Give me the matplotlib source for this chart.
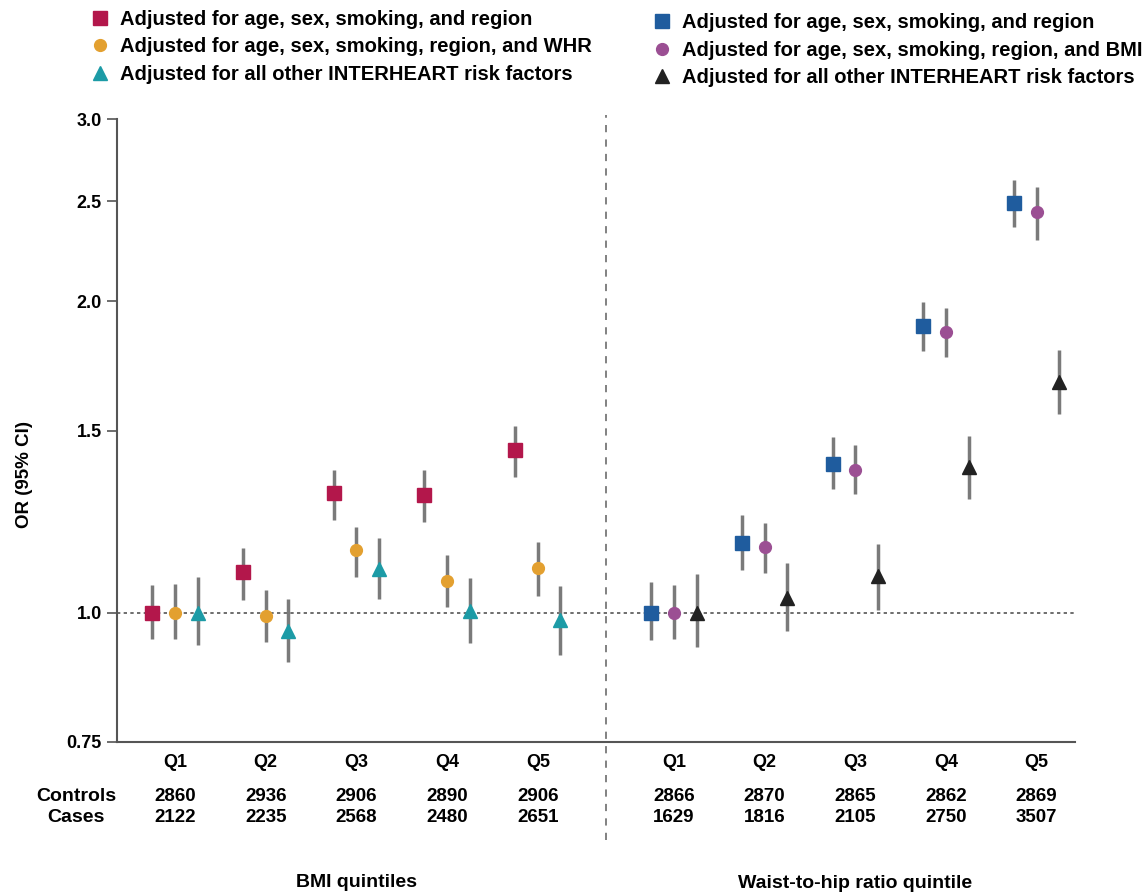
import matplotlib
matplotlib.use("Agg")
import matplotlib.pyplot as plt
import numpy as np

plt.rcParams["font.family"] = ["Liberation Sans", "DejaVu Sans"]
plt.rcParams["font.weight"] = "bold"

# data
quintiles = ["Q1", "Q2", "Q3", "Q4", "Q5"]

bmi_labels = ["Adjusted for age, sex, smoking, and region",
              "Adjusted for age, sex, smoking, region, and WHR",
              "Adjusted for all other INTERHEART risk factors"]
bmi_or = [[1.00, 1.095, 1.304, 1.299, 1.437],
          [1.00, 0.993, 1.149, 1.073, 1.105],
          [1.00, 0.961, 1.103, 1.004, 0.983]]
bmi_lo = [[0.944, 1.028, 1.230, 1.225, 1.353],
          [0.944, 0.937, 1.083, 1.012, 1.038],
          [0.930, 0.895, 1.032, 0.935, 0.910]]
bmi_hi = [[1.064, 1.155, 1.373, 1.373, 1.516],
          [1.066, 1.052, 1.211, 1.136, 1.170],
          [1.083, 1.032, 1.181, 1.080, 1.060]]

whr_labels = ["Adjusted for age, sex, smoking, and region",
              "Adjusted for age, sex, smoking, region, and BMI",
              "Adjusted for all other INTERHEART risk factors"]
whr_or = [[1.00, 1.168, 1.393, 1.895, 2.491],
          [1.00, 1.158, 1.375, 1.867, 2.440],
          [1.00, 1.034, 1.085, 1.383, 1.672]]
whr_lo = [[0.940, 1.099, 1.316, 1.790, 2.358],
          [0.944, 1.093, 1.302, 1.766, 2.293],
          [0.926, 0.959, 1.007, 1.289, 1.555]]
whr_hi = [[1.070, 1.243, 1.478, 1.997, 2.622],
          [1.063, 1.220, 1.454, 1.971, 2.580],
          [1.089, 1.116, 1.164, 1.483, 1.795]]

bmi_controls = [2860, 2936, 2906, 2890, 2906]
bmi_cases = [2122, 2235, 2568, 2480, 2651]
whr_controls = [2866, 2870, 2865, 2862, 2869]
whr_cases = [1629, 1816, 2105, 2750, 3507]

yticks = [0.75, 1.0, 1.5, 2.0, 2.5, 3.0]

bmi_colors = ["#B3174B", "#E3A030", "#1C9BA6"]
whr_colors = ["#1F5C9E", "#9B4F93", "#222222"]
markers = ["s", "o", "^"]
msizes = [9.5, 8.5, 9.5]

fig = plt.figure(figsize=(11.47, 8.96), dpi=100)
ax = fig.add_axes([0.102, 0.172, 0.835, 0.695])

bmi_x = np.arange(1, 6)
whr_x = np.arange(1, 6) + 5.5
offsets = [-0.25, 0, 0.25]

handles_l, handles_r = [], []
for i in range(3):
    for xs, ors, lo, hi, col, store, lab in [
            (bmi_x, bmi_or, bmi_lo, bmi_hi, bmi_colors, handles_l, bmi_labels),
            (whr_x, whr_or, whr_lo, whr_hi, whr_colors, handles_r, whr_labels)]:
        y = np.array(ors[i])
        err = [y - np.array(lo[i]), np.array(hi[i]) - y]
        ax.errorbar(xs + offsets[i], y, yerr=err, fmt="none", ecolor="#7a7a7a",
                    elinewidth=2.5, capsize=0, zorder=2)
        h, = ax.plot(xs + offsets[i], y, linestyle="none", marker=markers[i],
                     markersize=msizes[i], color=col[i], markeredgecolor=col[i],
                     zorder=3, label=lab[i])
        store.append(h)

ax.axhline(1.0, color="#555555", linestyle=(0, (2, 2)), linewidth=1.2, zorder=1)
ax.axvline(5.75, ymin=-0.157, ymax=1.006, color="#777777", linestyle=(0, (4, 4)),
           linewidth=1.3, clip_on=False)

ax.set_yscale("log")
ax.set_ylim(0.75, 3.0)
ax.set_xlim(0.36, 10.92)
ax.set_yticks(yticks)
ax.set_yticklabels(["0.75", "1.0", "1.5", "2.0", "2.5", "3.0"])
ax.yaxis.set_minor_locator(matplotlib.ticker.NullLocator())
ax.set_xticks(list(bmi_x) + list(whr_x))
ax.set_xticklabels(quintiles + quintiles)
ax.tick_params(axis="x", length=0, pad=9, labelsize=13)
ax.tick_params(axis="y", length=7, width=1.2, color="#555555", labelsize=13, pad=4)
for s in ["top", "right"]:
    ax.spines[s].set_visible(False)
for s in ["left", "bottom"]:
    ax.spines[s].set_color("#555555")
    ax.spines[s].set_linewidth(1.5)

tr = ax.get_xaxis_transform()
ax.text(-0.09, -0.087, "Controls", transform=tr, ha="center", va="center", fontsize=14)
ax.text(-0.09, -0.122, "Cases", transform=tr, ha="center", va="center", fontsize=14)
for xs, ctrl, cases in [(bmi_x, bmi_controls, bmi_cases), (whr_x, whr_controls, whr_cases)]:
    for x, c1, c2 in zip(xs, ctrl, cases):
        ax.text(x, -0.087, str(c1), transform=tr, ha="center", va="center", fontsize=13.5)
        ax.text(x, -0.122, str(c2), transform=tr, ha="center", va="center", fontsize=13.5)

ax.text(3.0, -0.225, "BMI quintiles", transform=tr, ha="center", va="center", fontsize=14)
ax.text(8.5, -0.228, "Waist-to-hip ratio quintile", transform=tr, ha="center", va="center", fontsize=14)

fig.text(0.021, 0.47, "OR (95% CI)", rotation=90, ha="center", va="center", fontsize=13.5)

fig.legend(handles=handles_l, loc="upper left", bbox_to_anchor=(0.080, 0.989),
           frameon=False, fontsize=14.5, handlelength=0.8, handletextpad=0.6,
           labelspacing=0.42, borderpad=0, borderaxespad=0)
fig.legend(handles=handles_r, loc="upper left", bbox_to_anchor=(0.570, 0.985),
           frameon=False, fontsize=14.5, handlelength=0.8, handletextpad=0.6,
           labelspacing=0.42, borderpad=0, borderaxespad=0)

fig.savefig("out.png", dpi=100)
